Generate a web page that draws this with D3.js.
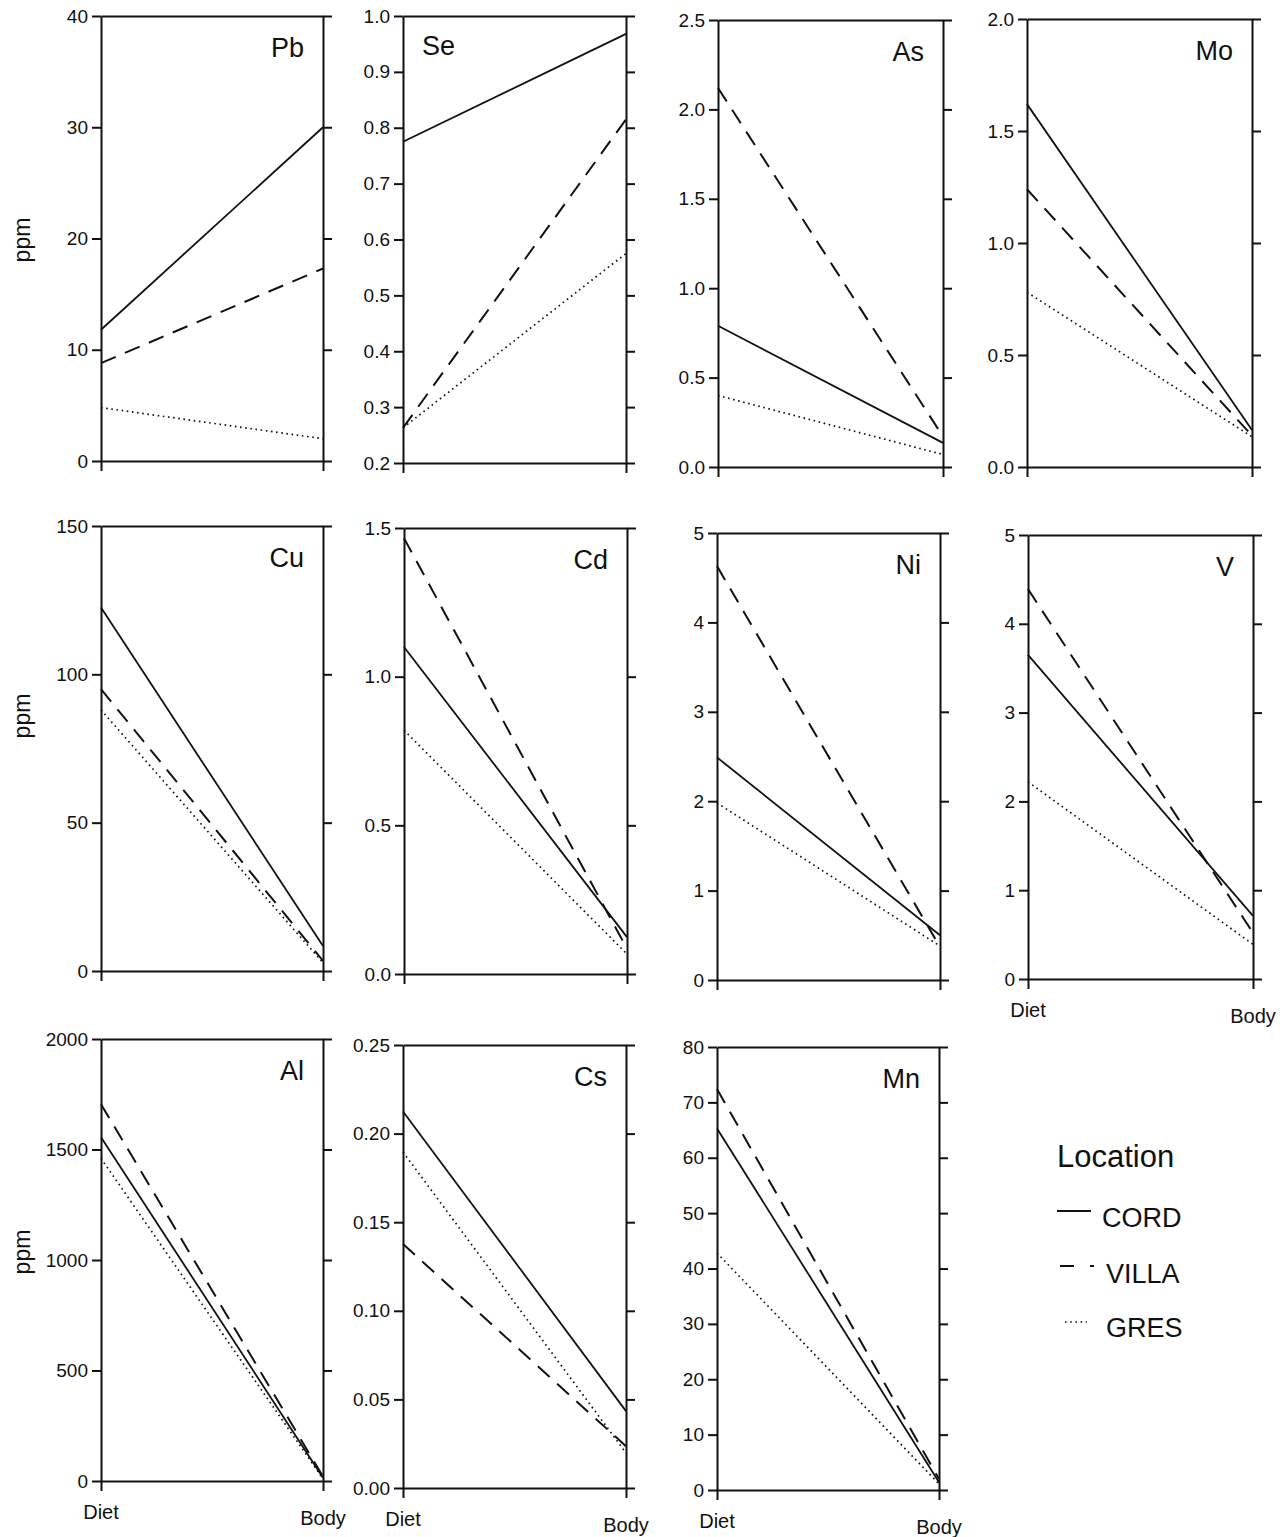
<!DOCTYPE html>
<html>
<head>
<meta charset="utf-8">
<script src="https://cdn.jsdelivr.net/npm/d3@7"></script>
<style>
  html, body { margin: 0; padding: 0; background: #fff; }
  svg { display: block; font-family: "Liberation Sans", Arial, Helvetica, sans-serif; }
  .axis .domain { stroke: #111; stroke-width: 2; }
  .axis .tick line { stroke: #111; stroke-width: 2; }
  .axis .tick text { font-size: 19px; fill: #111; font-family: "Liberation Sans", Arial, sans-serif; }
</style>
</head>
<body>
<svg id="chart" width="1286" height="1537"></svg>
<script>
// ---------------- DATA ----------------
const ELEMENTS  = ["Pb", "Se", "As", "Mo", "Cu", "Cd", "Ni", "V", "Al", "Cs", "Mn"];
const STAGES    = ["Diet", "Body"];
const LOCATIONS = ["CORD", "VILLA", "GRES"];

// concentrations (ppm) in Diet and Body, per element (same order as ELEMENTS)
const CORD_DIET  = [11.8, 0.775, 0.79, 1.62, 122.5, 1.10, 2.49, 3.65, 1555, 0.2125, 65.3];
const CORD_BODY  = [30.0, 0.968, 0.135, 0.165, 8.4, 0.124, 0.50, 0.71, 15, 0.0434, 1.4];
const VILLA_DIET = [8.8, 0.263, 2.12, 1.24, 95, 1.466, 4.63, 4.39, 1705, 0.1377, 72.4];
const VILLA_BODY = [17.3, 0.815, 0.17, 0.14, 3.4, 0.085, 0.37, 0.52, 20, 0.0236, 2.0];
const GRES_DIET  = [4.8, 0.263, 0.40, 0.78, 88, 0.82, 1.98, 2.22, 1460, 0.1896, 42.8];
const GRES_BODY  = [2.0, 0.575, 0.07, 0.135, 2.8, 0.067, 0.38, 0.39, 10, 0.0198, 1.1];

// axis ranges and tick labels
const Y_MIN  = [0, 0.2, 0, 0, 0, 0, 0, 0, 0, 0, 0];
const Y_MAX  = [40, 1.0, 2.5, 2.0, 150, 1.5, 5, 5, 2000, 0.25, 80];
const Y_STEP = [10, 0.1, 0.5, 0.5, 50, 0.5, 1, 1, 500, 0.05, 10];
const Y_DEC  = [0, 1, 1, 1, 0, 1, 0, 0, 0, 2, 0];
const SHOW_STAGE_LABELS = [false, false, false, false, false, false, false, true, true, true, true];
const LABEL_LEFT = [false, true, false, false, false, false, false, false, false, false, false];

const Y_TITLE = "ppm";
const LEGEND_TITLE = "Location";

// ---------------- LAYOUT ----------------
const FRAMES = [
  {x0: 101, x1: 323, y0: 16,   y1: 461},
  {x0: 403, x1: 626, y0: 16,   y1: 463},
  {x0: 718, x1: 943, y0: 20,   y1: 467},
  {x0: 1027, x1: 1252, y0: 19, y1: 467},
  {x0: 101, x1: 323, y0: 526,  y1: 971},
  {x0: 404, x1: 627, y0: 528,  y1: 974},
  {x0: 717, x1: 940, y0: 533,  y1: 980},
  {x0: 1028, x1: 1253, y0: 535, y1: 979},
  {x0: 101, x1: 323, y0: 1039, y1: 1481},
  {x0: 403, x1: 626, y0: 1045, y1: 1488},
  {x0: 717, x1: 939, y0: 1047, y1: 1490}
];
const YTITLE_POS = [{x: 23, y: 240}, {x: 23, y: 716}, {x: 23, y: 1252}];

const STYLES = {
  CORD:  {dash: null,      width: 1.8},
  VILLA: {dash: "16,10",   width: 2.0},
  GRES:  {dash: "1.6,3.6", width: 1.7}
};

const SERIES = {
  CORD:  [CORD_DIET, CORD_BODY],
  VILLA: [VILLA_DIET, VILLA_BODY],
  GRES:  [GRES_DIET, GRES_BODY]
};

// ---------------- DRAW ----------------
const svg = d3.select("#chart");
const ink = "#111";

ELEMENTS.forEach((el, i) => {
  const f = FRAMES[i];
  const x = d3.scalePoint().domain(STAGES).range([f.x0, f.x1]);
  const y = d3.scaleLinear().domain([Y_MIN[i], Y_MAX[i]]).range([f.y1, f.y0]);
  const ticks = d3.range(Y_MIN[i], Y_MAX[i] + Y_STEP[i] / 2, Y_STEP[i]);
  const g = svg.append("g");

  // data lines
  LOCATIONS.forEach(loc => {
    const vals = STAGES.map((s, k) => ({stage: s, v: SERIES[loc][k][i]}));
    const line = d3.line().x(d => x(d.stage)).y(d => y(d.v));
    g.append("path")
      .datum(vals)
      .attr("d", line)
      .attr("fill", "none")
      .attr("stroke", ink)
      .attr("stroke-width", STYLES[loc].width)
      .attr("stroke-dasharray", STYLES[loc].dash);
  });

  // left axis
  g.append("g").attr("class", "axis")
    .attr("transform", `translate(${f.x0},0)`)
    .call(d3.axisLeft(y).tickValues(ticks).tickSize(9).tickSizeOuter(0).tickPadding(4)
      .tickFormat(d3.format(`.${Y_DEC[i]}f`)));
  // right axis
  g.append("g").attr("class", "axis")
    .attr("transform", `translate(${f.x1},0)`)
    .call(d3.axisRight(y).tickValues(ticks).tickSize(9).tickSizeOuter(0).tickFormat(""));
  // bottom axis
  g.append("g").attr("class", "axis")
    .attr("transform", `translate(0,${f.y1})`)
    .call(d3.axisBottom(x).tickSize(10).tickSizeOuter(0).tickFormat(""));
  // top frame
  g.append("g").attr("class", "axis")
    .attr("transform", `translate(0,${f.y0})`)
    .call(d3.axisTop(x).tickValues([]).tickSizeOuter(0));

  // stage labels
  if (SHOW_STAGE_LABELS[i]) {
    STAGES.forEach((s, k) => {
      g.append("text")
        .attr("x", x(s))
        .attr("y", f.y1 + (k === 0 ? 38 : 44))
        .attr("text-anchor", "middle")
        .attr("font-size", 20)
        .attr("fill", ink)
        .text(s);
    });
  }

  // element label
  g.append("text")
    .attr("x", LABEL_LEFT[i] ? f.x0 + 19 : f.x1 - 19)
    .attr("y", f.y0 + (LABEL_LEFT[i] ? 39 : 41))
    .attr("text-anchor", LABEL_LEFT[i] ? "start" : "end")
    .attr("font-size", 27)
    .attr("fill", ink)
    .text(el);
});

// y titles
YTITLE_POS.forEach(p => {
  svg.append("text")
    .attr("transform", `translate(${p.x},${p.y}) rotate(-90)`)
    .attr("text-anchor", "middle")
    .attr("dy", "0.32em")
    .attr("font-size", 23)
    .attr("fill", ink)
    .text(Y_TITLE);
});

// legend
const lg = svg.append("g");
lg.append("text").attr("x", 1057).attr("y", 1167).attr("font-size", 31).attr("fill", ink).text(LEGEND_TITLE);
const legendRows = [
  {loc: "CORD",  y: 1211, x1: 1057, x2: 1091, tx: 1102, ty: 1227},
  {loc: "VILLA", y: 1266, x1: 1060, x2: 1094, tx: 1106, ty: 1283},
  {loc: "GRES",  y: 1322, x1: 1065, x2: 1087, tx: 1106, ty: 1337}
];
legendRows.forEach(r => {
  lg.append("line")
    .attr("x1", r.x1).attr("x2", r.x2).attr("y1", r.y).attr("y2", r.y)
    .attr("stroke", ink)
    .attr("stroke-width", STYLES[r.loc].width)
    .attr("stroke-dasharray", r.loc === "VILLA" ? "14,16" : STYLES[r.loc].dash);
  lg.append("text").attr("x", r.tx).attr("y", r.ty).attr("font-size", 27).attr("fill", ink).text(r.loc);
});
</script>
</body>
</html>
